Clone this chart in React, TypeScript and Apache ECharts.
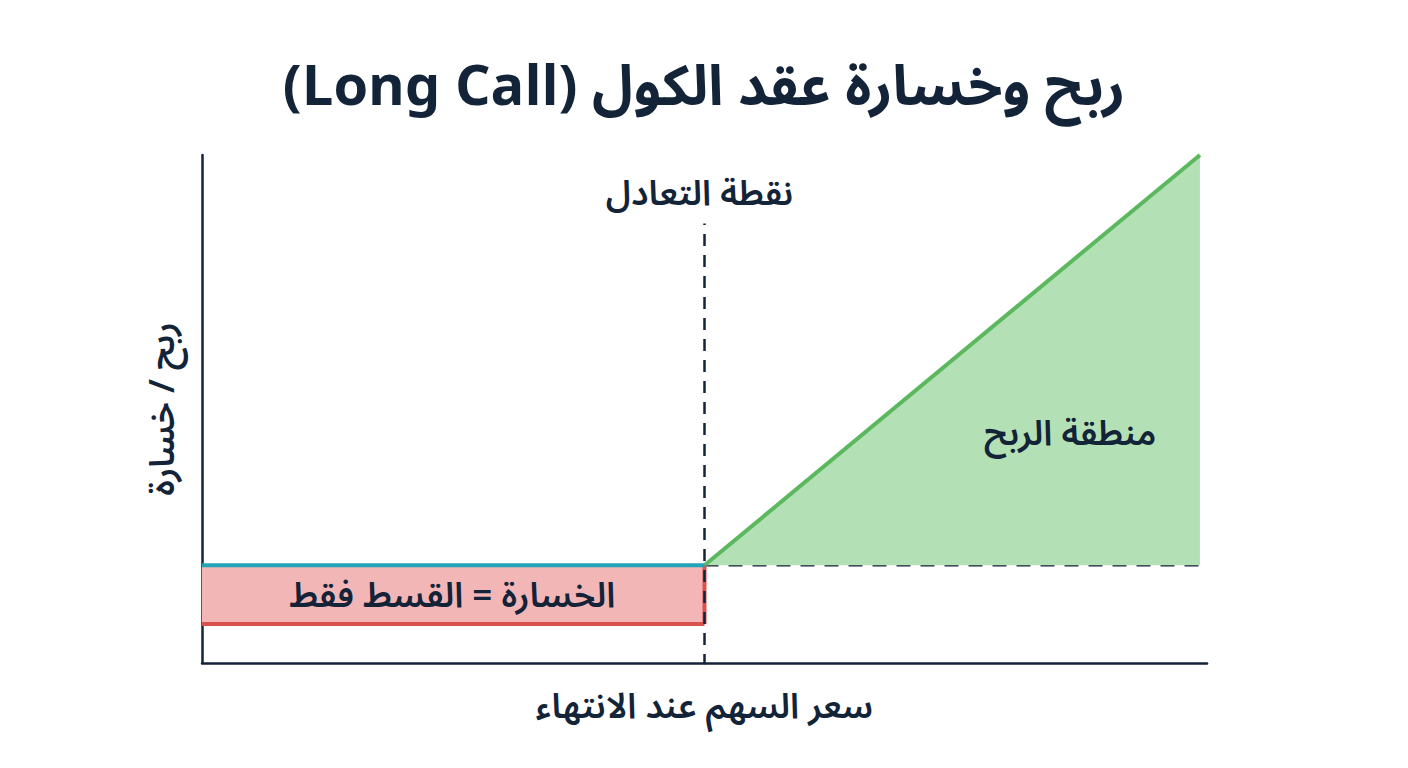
import React, { useEffect, useRef } from "react";
import * as echarts from "echarts";

const RLE = "\u202B";
const PDF = "\u202C";
const TITLE = "ربح وخسارة عقد الكول (Long Call)";
const X_NAME = "سعر السهم عند الانتهاء";
const Y_NAME = "ربح / خسارة";
const BREAK_EVEN_LABEL = "نقطة التعادل";
const PROFIT_LABEL = "منطقة الربح";
const LOSS_LABEL = "الخسارة = القسط فقط";

const X_RANGE = [0, 100];
const Y_RANGE = [-10, 42];
const PREMIUM = 6;
const PROFIT_LINE = [[50, 0], [99.3, 42]];
const LOSS_LINE = [[0, -PREMIUM], [50, -PREMIUM]];
const ZERO_LINE = [[0, 0], [50, 0]];
const LOSS_EDGE = [[50, 0], [50, -PREMIUM]];
const BE_VERTICAL = [[50, -10.3], [50, 35]];
const BE_HORIZONTAL = [[50, 0], [99.3, 0]];
const ANNOTATIONS = [
  { value: [49.5, 38.0], text: BREAK_EVEN_LABEL },
  { value: [86.4, 13.4], text: PROFIT_LABEL },
  { value: [24.9, -3.1], text: LOSS_LABEL },
];

const FONT = "'Noto Sans Arabic', 'DejaVu Sans', 'Noto Sans', sans-serif";
const NAVY = "#132338";

export default function App() {
  const ref = useRef<HTMLDivElement>(null);
  useEffect(() => {
    if (!ref.current) return;
    const chart = echarts.init(ref.current, undefined, { renderer: "svg" });
    const seg = (data: number[][], color: string, width: number, type: any = "solid", z = 2) => ({
      type: "line",
      data,
      symbol: "none",
      silent: true,
      z,
      lineStyle: { color, width, type, cap: "butt" },
    });
    chart.setOption({
      animation: false,
      backgroundColor: "#ffffff",
      title: {
        text: RLE + TITLE + PDF,
        left: "center",
        top: 54,
        textStyle: { fontFamily: FONT, fontSize: 56, fontWeight: "bold", color: NAVY },
      },
      grid: { left: 202, right: 201, top: 155, bottom: 105 },
      xAxis: {
        type: "value",
        min: X_RANGE[0],
        max: X_RANGE[1],
        name: X_NAME,
        nameLocation: "middle",
        nameGap: 26,
        nameTextStyle: { fontFamily: FONT, fontSize: 35, color: NAVY, fontWeight: 600 },
        axisLine: { show: true, onZero: false, lineStyle: { color: NAVY, width: 2.5 } },
        axisTick: { show: false },
        axisLabel: { show: false },
        splitLine: { show: false },
      },
      yAxis: {
        type: "value",
        min: Y_RANGE[0],
        max: Y_RANGE[1],
        name: Y_NAME,
        nameLocation: "middle",
        nameGap: 22,
        nameTextStyle: { fontFamily: FONT, fontSize: 35, color: NAVY, fontWeight: 600 },
        axisLine: { show: true, onZero: false, lineStyle: { color: NAVY, width: 2.5 } },
        axisTick: { show: false },
        axisLabel: { show: false },
        splitLine: { show: false },
      },
      series: [
        {
          ...seg(PROFIT_LINE, "#5cb85f", 4, "solid", 3),
          areaStyle: { color: "#b3e1b5", opacity: 1, origin: "auto" },
        },
        {
          ...seg(LOSS_LINE, "#d9514f", 4, "solid", 3),
          areaStyle: { color: "#f3b6b6", opacity: 1, origin: "auto" },
        },
        seg(LOSS_EDGE, "#d9514f", 4, "solid", 3),
        seg(ZERO_LINE, "#23a3b7", 4, "solid", 4),
        seg(BE_VERTICAL, NAVY, 2.5, [12, 9], 5),
        seg(BE_HORIZONTAL, NAVY, 2.5, [14, 10], 2),
        {
          type: "scatter",
          symbolSize: 0,
          silent: true,
          z: 10,
          itemStyle: { opacity: 1 },
          data: ANNOTATIONS.map((a) => ({ value: a.value, text: a.text })),
          label: {
            show: true,
            position: "inside",
            formatter: (p: any) => p.data.text,
            fontFamily: FONT,
            fontSize: 35,
            fontWeight: 600,
            color: NAVY,
            opacity: 1,
            textBorderWidth: 0,
          },
        },
      ],
    });
    return () => chart.dispose();
  }, []);
  return (
    <div
      ref={ref}
      style={{ position: "absolute", left: 0, top: 0, width: 1408, height: 768 }}
    />
  );
}
